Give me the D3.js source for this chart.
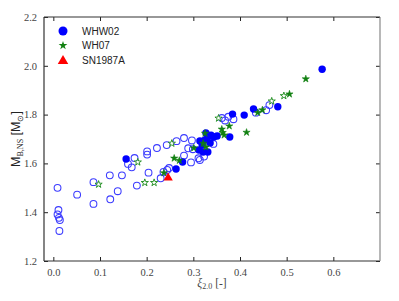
<!DOCTYPE html>
<html>
<head>
<meta charset="utf-8">
<script src="https://cdn.jsdelivr.net/npm/d3@7"></script>
<style>
  body { margin: 0; background: #fff; }
  svg { display: block; }
</style>
</head>
<body>
<svg id="chart" width="399" height="301"></svg>
<script>
// values: [xi_2.0, M_B,NS]
const whw02Open = [
  [0.009, 1.500], [0.011, 1.409], [0.009, 1.391], [0.012, 1.377], [0.014, 1.368],
  [0.013, 1.323], [0.051, 1.472], [0.086, 1.434], [0.086, 1.523], [0.121, 1.551],
  [0.122, 1.453], [0.138, 1.486], [0.147, 1.551], [0.160, 1.598], [0.168, 1.584],
  [0.174, 1.622], [0.179, 1.509], [0.201, 1.649], [0.201, 1.636], [0.204, 1.562],
  [0.222, 1.663], [0.230, 1.539], [0.236, 1.565], [0.244, 1.573], [0.248, 1.581],
  [0.243, 1.675], [0.264, 1.691], [0.280, 1.704], [0.297, 1.694], [0.280, 1.632],
  [0.295, 1.604], [0.311, 1.621], [0.314, 1.614], [0.323, 1.628], [0.299, 1.658],
  [0.343, 1.680], [0.289, 1.662], [0.361, 1.786], [0.368, 1.776], [0.375, 1.791],
  [0.386, 1.781], [0.456, 1.818], [0.463, 1.839], [0.434, 1.808]
];
const whw02 = [
  [0.156, 1.618], [0.263, 1.577], [0.277, 1.606], [0.312, 1.655], [0.319, 1.675],
  [0.325, 1.696], [0.331, 1.708], [0.338, 1.716], [0.344, 1.708], [0.321, 1.647],
  [0.331, 1.647], [0.327, 1.725], [0.336, 1.684], [0.314, 1.692], [0.351, 1.712],
  [0.378, 1.708], [0.384, 1.802], [0.409, 1.798], [0.429, 1.823], [0.481, 1.832],
  [0.576, 1.986]
];
const wh07 = [
  [0.259, 1.621], [0.270, 1.612], [0.237, 1.561], [0.301, 1.663], [0.325, 1.723],
  [0.321, 1.682], [0.327, 1.667], [0.361, 1.740], [0.377, 1.753], [0.363, 1.726],
  [0.366, 1.716], [0.414, 1.727], [0.438, 1.808], [0.448, 1.819], [0.506, 1.884],
  [0.541, 1.946]
];
const wh07Open = [
  [0.097, 1.514], [0.181, 1.605], [0.196, 1.521], [0.216, 1.521], [0.254, 1.682],
  [0.354, 1.785], [0.468, 1.855], [0.494, 1.877]
];
const sn1987a = [[0.246, 1.545]];

const xTicks = [0.0, 0.1, 0.2, 0.3, 0.4, 0.5, 0.6];
const yTicks = [1.2, 1.4, 1.6, 1.8, 2.0, 2.2];
const legendItems = ['WHW02', 'WH07', 'SN1987A'];

const svg = d3.select('#chart');
const margin = { top: 17, right: 19, bottom: 40, left: 44 };
const width = +svg.attr('width');
const height = +svg.attr('height');

const x = d3.scaleLinear()
  .domain([-0.02, 0.70])
  .range([margin.left, width - margin.right]);
const y = d3.scaleLinear()
  .domain([1.2, 2.2])
  .range([height - margin.bottom, margin.top]);

// AXES
const fmt = d3.format('.1f');
const tickFont = (g) => g.selectAll('text')
  .style('font-family', '"Liberation Serif", "DejaVu Serif", serif')
  .style('font-size', '10.5px')
  .attr('fill', '#444');

svg.append('g')
  .attr('transform', `translate(0,${y(1.2)})`)
  .call(d3.axisBottom(x).tickValues(xTicks).tickFormat(fmt).tickSizeInner(-4).tickSizeOuter(0).tickPadding(8))
  .call(tickFont)
  .call((g) => g.select('.domain').remove())
  .call((g) => g.selectAll('line').attr('stroke', '#222'));

svg.append('g')
  .attr('transform', `translate(0,${y(2.2)})`)
  .call(d3.axisTop(x).tickValues(xTicks).tickFormat('').tickSizeInner(-4).tickSizeOuter(0))
  .call((g) => g.select('.domain').remove())
  .call((g) => g.selectAll('line').attr('stroke', '#222'));

svg.append('g')
  .attr('transform', `translate(${x(-0.02)},0)`)
  .call(d3.axisLeft(y).tickValues(yTicks).tickFormat(fmt).tickSizeInner(-4).tickSizeOuter(0).tickPadding(7))
  .call(tickFont)
  .call((g) => g.select('.domain').remove())
  .call((g) => g.selectAll('line').attr('stroke', '#222'));

svg.append('g')
  .attr('transform', `translate(${x(0.70)},0)`)
  .call(d3.axisRight(y).tickValues(yTicks).tickFormat('').tickSizeInner(-4).tickSizeOuter(0))
  .call((g) => g.select('.domain').remove())
  .call((g) => g.selectAll('line').attr('stroke', '#222'));

// frame
svg.append('line')
  .attr('x1', x(-0.02)).attr('x2', x(0.70)).attr('y1', y(2.2)).attr('y2', y(2.2))
  .attr('stroke', '#333').attr('stroke-width', 1.2);
svg.append('line')
  .attr('x1', x(-0.02)).attr('x2', x(0.70)).attr('y1', y(1.2)).attr('y2', y(1.2))
  .attr('stroke', '#333').attr('stroke-width', 1.2);
svg.append('line')
  .attr('x1', x(-0.02)).attr('x2', x(-0.02)).attr('y1', y(1.2)).attr('y2', y(2.2))
  .attr('stroke', '#333').attr('stroke-width', 1.2);
svg.append('line')
  .attr('x1', x(0.70)).attr('x2', x(0.70)).attr('y1', y(1.2)).attr('y2', y(2.2))
  .attr('stroke', '#888').attr('stroke-width', 1.2);

// MARKS
const plot = svg.append('g');

plot.selectAll('.open-circle')
  .data(whw02Open)
  .join('circle')
  .classed('open-circle', true)
  .attr('cx', (d) => x(d[0]))
  .attr('cy', (d) => y(d[1]))
  .attr('r', 3.4)
  .attr('fill', 'none')
  .attr('stroke', '#3b3bff')
  .attr('stroke-width', 1.05);

plot.selectAll('.filled-circle')
  .data(whw02)
  .join('circle')
  .classed('filled-circle', true)
  .attr('cx', (d) => x(d[0]))
  .attr('cy', (d) => y(d[1]))
  .attr('r', 3.7)
  .attr('fill', '#0000ff');

const star = d3.symbol().type(d3.symbolStar).size(16);

plot.selectAll('.open-star')
  .data(wh07Open)
  .join('path')
  .classed('open-star', true)
  .attr('transform', (d) => `translate(${x(d[0])},${y(d[1])})`)
  .attr('d', star)
  .attr('fill', '#fff')
  .attr('stroke', '#1a8a1a')
  .attr('stroke-width', 0.9);

plot.selectAll('.filled-star')
  .data(wh07)
  .join('path')
  .classed('filled-star', true)
  .attr('transform', (d) => `translate(${x(d[0])},${y(d[1])})`)
  .attr('d', star)
  .attr('fill', '#118011')
  .attr('stroke', '#118011')
  .attr('stroke-width', 0.6);

plot.selectAll('.tri')
  .data(sn1987a)
  .join('path')
  .classed('tri', true)
  .attr('transform', (d) => `translate(${x(d[0])},${y(d[1]) + 1})`)
  .attr('d', d3.symbol().type(d3.symbolTriangle).size(38))
  .attr('fill', '#ff0000');

// LEGEND
const legend = svg.append('g').attr('transform', 'translate(63,31)');
const legendMarks = [
  (g) => g.append('circle').attr('r', 4.5).attr('fill', '#0000ff'),
  (g) => g.append('path').attr('d', d3.symbol().type(d3.symbolStar).size(24)).attr('fill', '#118011'),
  (g) => g.append('path').attr('transform', 'translate(0,1)').attr('d', d3.symbol().type(d3.symbolTriangle).size(48)).attr('fill', '#ff0000'),
];
legendItems.forEach((name, i) => {
  const row = legend.append('g').attr('transform', `translate(0,${i * 14.5})`);
  legendMarks[i](row);
  row.append('text')
    .attr('x', 19)
    .attr('y', 3.6)
    .style('font-family', '"Liberation Sans", Arial, sans-serif')
    .style('font-size', '10px')
    .attr('fill', '#222')
    .text(name);
});

// AXIS LABELS
const yLabel = svg.append('text')
  .attr('transform', `translate(20,${(y(1.2) + y(2.2)) / 2}) rotate(-90)`)
  .style('text-anchor', 'middle')
  .style('font-family', '"Liberation Sans", Arial, sans-serif')
  .style('font-size', '12.5px')
  .attr('fill', '#222');
yLabel.append('tspan').text('M');
yLabel.append('tspan').attr('dy', 3).style('font-size', '8px').style('font-family', '"Liberation Serif", serif').text('B,NS');
yLabel.append('tspan').attr('dy', -3).text(' [M');
yLabel.append('tspan').attr('dy', 3).style('font-size', '8px').text('\u2299');
yLabel.append('tspan').attr('dy', -3).text(']');

const xLabel = svg.append('text')
  .attr('x', (x(-0.02) + x(0.70)) / 2)
  .attr('y', 287)
  .style('text-anchor', 'middle')
  .style('font-family', '"Liberation Serif", "DejaVu Serif", serif')
  .style('font-size', '11.5px')
  .attr('fill', '#444');
xLabel.append('tspan').style('font-style', 'italic').text('\u03be');
xLabel.append('tspan').attr('dy', 2).style('font-size', '8px').text('2.0');
xLabel.append('tspan').attr('dy', -2).text(' [-]');
</script>
</body>
</html>
